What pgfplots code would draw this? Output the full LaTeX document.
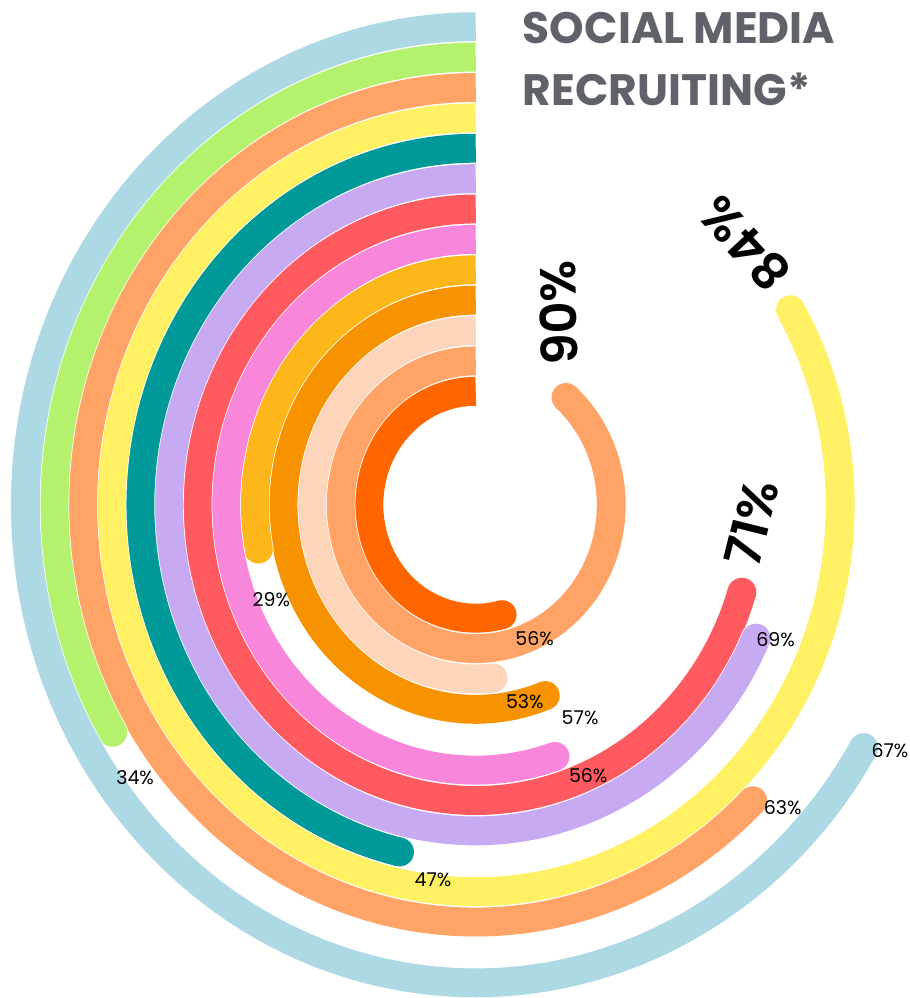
\documentclass[border=0pt]{standalone}
\usepackage{pgfplots}
\pgfplotsset{compat=1.18}
\usepackage{fontspec}
\setmainfont{Poppins}
\newfontfamily\semib{Poppins SemiBold}

\definecolor{c0}{HTML}{FF6600}
\definecolor{c1}{HTML}{FFA366}
\definecolor{c2}{HTML}{FDD5BB}
\definecolor{c3}{HTML}{F79200}
\definecolor{c4}{HTML}{FDB71A}
\definecolor{c5}{HTML}{F887DC}
\definecolor{c6}{HTML}{FF5A5F}
\definecolor{c7}{HTML}{C8AAF2}
\definecolor{c8}{HTML}{009999}
\definecolor{c9}{HTML}{FFF163}
\definecolor{c10}{HTML}{FFA366}
\definecolor{c11}{HTML}{B4F26E}
\definecolor{c12}{HTML}{ADD9E4}
\definecolor{titlegray}{HTML}{5F6369}

\begin{document}
\begin{tikzpicture}
\begin{axis}[
  x=0.942pt, y=1pt, anchor=origin, disabledatascaling,
  xmin=-505.3, xmax=460.7, ymin=-493, ymax=505,
  hide axis, clip=false,
]
\path (rel axis cs:0,0) rectangle (rel axis cs:1,1);

% the arcs, inner ring first: ring radius, value (%), colour
\addplot[scatter, only marks, mark=*, mark size=0pt,
  visualization depends on={value \thisrow{r} \as \rad},
  visualization depends on={value \thisrow{val} \as \myval},
  visualization depends on={value \thisrow{col} \as \ringcol},
  scatter/@pre marker code/.code={%
    \pgfmathsetmacro\da{\myval*3.6-deg(14.45/\rad)}%
    \begin{scope}\pgftransformxscale{0.942}
      \draw[draw=white, line width=30.4pt] (0,0) arc[start angle=90, delta angle=\da, radius=\rad pt] coordinate (e);
    \end{scope}
    \fill[fill=white, draw=none] (e) circle[radius=15.2pt];
    \begin{scope}\pgftransformxscale{0.942}
      \draw[draw=\ringcol, line width=28.9pt] (0,0) arc[start angle=90, delta angle=\da, radius=\rad pt];
    \end{scope}
    \fill[fill=\ringcol, draw=none] (e) circle[radius=14.45pt];
  },
  scatter/@post marker code/.code={},
] table[x=x, y=r] {
x r     val col
0 113.5 56  c0
0 143.9 90  c1
0 174.3 53  c2
0 204.7 57  c3
0 235.1 29  c4
0 265.5 56  c5
0 295.9 71  c6
0 326.3 69  c7
0 356.7 47  c8
0 387.1 84  c9
0 417.5 63  c10
0 447.9 34  c11
0 478.3 67  c12
};

% the value labels, on top of all arcs:
% label angle offset, label radius, font size, rotation
\addplot[scatter, only marks, mark=*, mark size=0pt,
  visualization depends on={value \thisrow{r} \as \rad},
  visualization depends on={value \thisrow{val} \as \myval},
  visualization depends on={value \thisrow{lda} \as \lda},
  visualization depends on={value \thisrow{lr} \as \labr},
  visualization depends on={value \thisrow{fs} \as \labfs},
  visualization depends on={value \thisrow{rot} \as \labrot},
  scatter/@pre marker code/.code={%
    \pgfmathsetmacro\la{90+\myval*3.6+\lda}%
    \begin{scope}\pgftransformxscale{0.942}
      \path (0,-\rad pt) ++(\la:\labr pt) coordinate (lab);
    \end{scope}
    \node[text=black, inner sep=0pt, rotate=\labrot,
      font=\ifnum\labfs>30 \semib\fi\fontsize{\labfs}{\labfs}\selectfont] at (lab) {\myval\%};
  },
  scatter/@post marker code/.code={},
] table[x=x, y=r] {
x r     val lda  lr    fs rot
0 113.5 56  3.4  148   19 0
0 143.9 90  11.4 211   50 92
0 174.3 53  4.0  204   19 0
0 204.7 57  2.3  240   19 0
0 235.1 29  9.2  237   19 0
0 265.5 56  2.2  296   19 0
0 295.9 71  10.9 293.5 50 76
0 326.3 69  -1.4 346   19 0
0 356.7 47  3.9  378   19 0
0 387.1 84  10.0 387   50 133
0 417.5 63  0.3  445   19 0
0 447.9 34  4.6  453   19 0
0 478.3 67  -0.4 504   19 0
};

\node[anchor=north west, inner sep=0pt, align=left, text=titlegray,
  font=\bfseries\fontsize{44}{62}\selectfont] at (axis cs:49.9,493) {SOCIAL MEDIA\\RECRUITING*};
\end{axis}
\end{tikzpicture}
\end{document}
